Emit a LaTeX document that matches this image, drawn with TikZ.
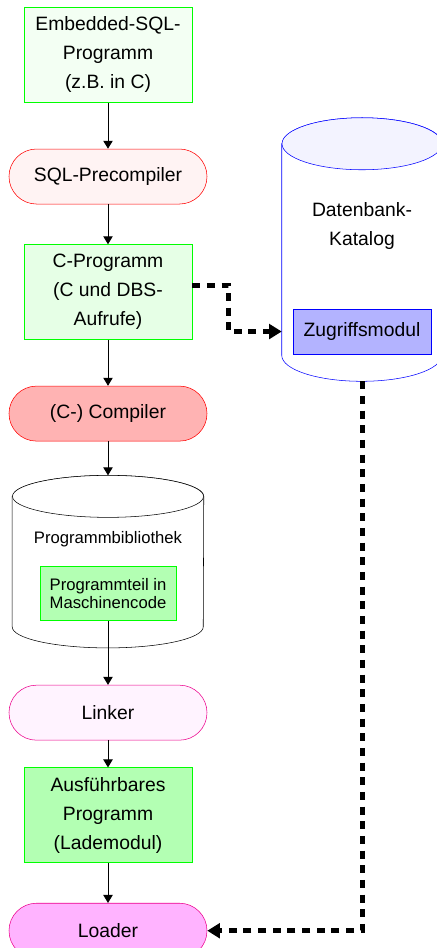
\documentclass[tikz,border=0pt]{standalone}
\usepackage{fontspec}
\setmainfont{Liberation Sans}
\usetikzlibrary{positioning,arrows.meta}

\definecolor{srcfill}{HTML}{F3FFF3}
\definecolor{cfill}{HTML}{E6FFE6}
\definecolor{codefill}{HTML}{B3FFB3}
\definecolor{prefill}{HTML}{FFF3F3}
\definecolor{compfill}{HTML}{FFB3B3}
\definecolor{linkfill}{HTML}{FFF3FF}
\definecolor{loadfill}{HTML}{FFB3FF}
\definecolor{katfill}{HTML}{F3F3FF}
\definecolor{modfill}{HTML}{B3B3FF}

\newcommand{\bigtext}{\fontsize{14.5}{21.75}\selectfont}
\newcommand{\smalltext}{\fontsize{12.5}{14}\selectfont}

% #1 node, #2 x radius, #3 y radius, #4 line colour, #5 top fill
\newcommand{\barrel}[5]{%
  \draw [draw=#4, fill=white] ([yshift=-#3]#1.north west) -- ([yshift=#3]#1.south west)
    arc [start angle=180, end angle=360, x radius=#2, y radius=#3]
    -- ([yshift=-#3]#1.north east)
    arc [start angle=0, end angle=180, x radius=#2, y radius=#3] -- cycle;
  \draw [draw=#4, fill=#5] ([yshift=-#3]#1.north) ellipse [x radius=#2, y radius=#3];
}

\tikzstyle{prog} = [rectangle, minimum width=126pt, minimum height=71.25pt, inner sep=0pt, align=center, draw=green, font=\bigtext]
\tikzstyle{tool} = [rectangle, rounded corners=20.6pt, minimum width=148.5pt, minimum height=41.25pt, inner sep=0pt, align=center, font=\bigtext]
\tikzstyle{store} = [rectangle, inner sep=0pt]
\tikzstyle{flow} = [->, >={Triangle[length=6pt,width=7pt]}, line width=0.75pt]
\tikzstyle{access} = [->, >={Triangle[length=9.5pt,width=11pt]}, line width=3.75pt, dash pattern=on 6pt off 5pt]

\begin{document}
\begin{tikzpicture}
  \useasboundingbox (-81pt,41.25pt) rectangle (246pt,-669.75pt);

  \node (src) [prog, fill=srcfill] {Embedded-SQL-\\Programm\\(z.B. in C)};
  \node (pre) [tool, draw=red, fill=prefill, below=34.5pt of src] {SQL-Precompiler};
  \node (cprog) [prog, fill=cfill, below=30pt of pre] {C-Programm\\(C und DBS-\\Aufrufe)};
  \node (comp) [tool, draw=red, fill=compfill, below=34.5pt of cprog] {(C-) Compiler};
  \node (lib) [store, minimum width=143.25pt, minimum height=129pt, below=25.5pt of comp] {};
  \barrel{lib}{71.625pt}{15.75pt}{black}{white}
  \node (libtxt) [font=\smalltext, inner sep=0pt] at ([yshift=16.5pt]lib.center) {Programmbibliothek};
  \node (code) [rectangle, draw=green, fill=codefill, minimum width=102pt, minimum height=40.5pt, inner sep=0pt, align=center, font=\smalltext] at ([yshift=-24pt]lib.center) {Programmteil in\\Maschinencode};
  \node (link) [tool, draw=magenta, fill=linkfill, below=27.75pt of lib] {Linker};
  \node (exe) [prog, fill=codefill, below=20.25pt of link] {Ausführbares\\Programm\\(Lademodul)};
  \node (load) [tool, draw=magenta, fill=loadfill, below=30pt of exe] {Loader};

  % Katalog rechts
  \node (kat) [store, minimum width=120pt, minimum height=197.25pt] at ([xshift=190.5pt, yshift=-54.75pt]pre.center) {};
  \barrel{kat}{60pt}{19.5pt}{blue}{katfill}
  \node (kattxt) [font=\bigtext, align=center, inner sep=0pt] at ([yshift=17.6pt]kat.center) {Datenbank-\\Katalog};
  \node (zm) [rectangle, draw=blue, fill=modfill, minimum width=103.5pt, minimum height=33.75pt, inner sep=0pt, font=\bigtext] at ([yshift=-61.5pt]kat.center) {Zugriffsmodul};

  \draw [flow] (src) -- (pre);
  \draw [flow] (pre) -- (cprog);
  \draw [flow] (cprog) -- (comp);
  \draw [flow] (comp) -- (lib);
  \draw [flow] (code) -- (link);
  \draw [flow] (link) -- (exe);
  \draw [flow] (exe) -- (load);

  \draw [access] ([yshift=5.25pt]cprog.east) -- ++(27pt,0) |- (zm -| kat.west);
  \draw [access] (kat.south) |- (load.east);
\end{tikzpicture}
\end{document}
